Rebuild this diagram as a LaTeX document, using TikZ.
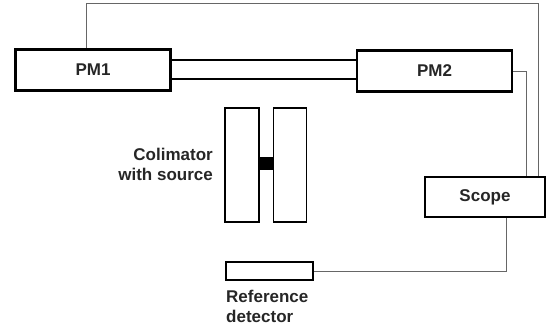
\documentclass[tikz,border=0pt]{standalone}
\usepackage{fontspec}
\setmainfont{Liberation Sans}
\usetikzlibrary{positioning}

\begin{document}
\begin{tikzpicture}[x=1pt,y=-1pt,
        txt/.style={font=\fontsize{17}{20}\selectfont\bfseries, text=black!85},
        pmbox/.style={draw, txt, line width=2.6pt, minimum width=155pt, minimum height=41pt, inner sep=0pt},
        block/.style={draw, line width=1.8pt, minimum width=34pt, minimum height=114pt, inner sep=0pt},
        wire/.style={black!60, line width=0.9pt},
        guide/.style={line width=1.8pt}]
        \useasboundingbox (0,0) rectangle (551,333);

        \node[pmbox] (pm1) at (93,70) {PM1};
        \node[pmbox] (pm2) at (434.5,71) {PM2};
        \node[pmbox, minimum width=120pt, minimum height=40pt] (scope) at (485,197) {Scope};
        \node[draw, line width=1.8pt, minimum width=87pt, minimum height=18pt, inner sep=0pt] (refdet) at (269.5,271) {};
        \node[txt, align=left, anchor=north west, inner sep=0pt] (reflabel) at (226,290) {Reference\\detector};

        % colimator
        \node[block] (colL) at (242,165) {};
        \node[block, minimum width=33pt] (colR) at (290,165) {};
        \fill (colL.east |- 0,157) rectangle (colR.west |- 0,170);
        \node[txt, align=right, anchor=east, inner sep=0pt] (collabel) at (213,164) {Colimator\\with source};

        % light guide
        \draw[guide] (pm1.east |- 0,60) -- (pm2.west |- 0,60);
        \draw[guide] (pm1.east |- 0,79) -- (pm2.west |- 0,79);

        % cables
        \coordinate (topR) at (538,3);
        \coordinate (pm2out) at (526,71);
        \draw[wire] ([xshift=-7pt]pm1.north) |- (topR) -- (topR |- scope.north);
        \draw[wire] (pm2.east |- pm2out) -- (pm2out) -- (pm2out |- scope.north);
        \draw[wire] ([xshift=21pt]scope.south) |- (refdet.east);
    \end{tikzpicture}
\end{document}
